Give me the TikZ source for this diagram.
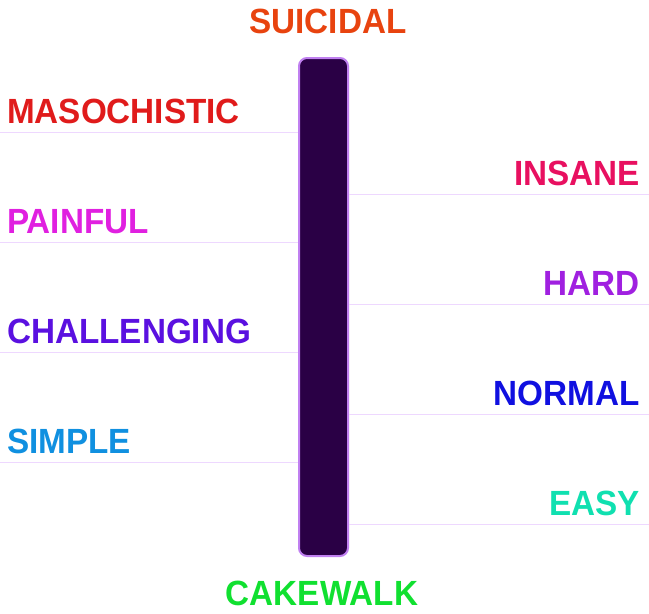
\documentclass[tikz,border=0pt]{standalone}
\usepackage{fontspec}
\setmainfont[FakeStretch=0.95]{Liberation Sans}
\definecolor{barfill}{HTML}{2A0045}
\definecolor{barborder}{HTML}{C080F0}
\definecolor{rungcolor}{HTML}{EED8FF}
\definecolor{suicidal}{HTML}{E8430F}
\definecolor{masochistic}{HTML}{E01B1B}
\definecolor{insane}{HTML}{E81060}
\definecolor{painful}{HTML}{E020E0}
\definecolor{hard}{HTML}{A020E0}
\definecolor{challenging}{HTML}{5A10E0}
\definecolor{normal}{HTML}{1010E0}
\definecolor{simple}{HTML}{1090E0}
\definecolor{easy}{HTML}{10E0B0}
\definecolor{cakewalk}{HTML}{10E030}
\tikzset{level/.style={font=\bfseries\fontsize{35}{40}\selectfont, inner sep=0pt},
 lefttag/.style={level, anchor=base west},
 righttag/.style={level, anchor=base east},
 rung/.style={draw=rungcolor, line width=1pt},
 scalebar/.style={draw=barborder, fill=barfill, line width=2pt,
   rounded corners=8pt, minimum width=49pt, minimum height=498pt, inner sep=0pt},
 }

\begin{document}
\begin{tikzpicture}[x=1pt,y=-1pt]
        \useasboundingbox (0,0) rectangle (649,614);
        \node[scalebar] (bar) at (323.5,307) {};
        % left side
        \coordinate (l1) at (0,132);
        \coordinate (l2) at (0,242);
        \coordinate (l3) at (0,352);
        \coordinate (l4) at (0,462);
        \draw[rung] (l1) -- (l1 -| bar.west);
        \draw[rung] (l2) -- (l2 -| bar.west);
        \draw[rung] (l3) -- (l3 -| bar.west);
        \draw[rung] (l4) -- (l4 -| bar.west);
        % right side
        \coordinate (r1) at (649,194);
        \coordinate (r2) at (649,304);
        \coordinate (r3) at (649,414);
        \coordinate (r4) at (649,524);
        \draw[rung] (bar.east |- r1) -- (r1);
        \draw[rung] (bar.east |- r2) -- (r2);
        \draw[rung] (bar.east |- r3) -- (r3);
        \draw[rung] (bar.east |- r4) -- (r4);
        \node[level, anchor=base, text=suicidal] (top) at (328,33) {SUICIDAL};
        \node[level, anchor=base, text=cakewalk] (bottom) at (322,605) {CAKEWALK};
        \node[lefttag, text=masochistic] (masochistic) at (7,123) {MASOCHISTIC};
        \node[lefttag, text=painful] (painful) at (7,233) {PAINFUL};
        \node[lefttag, text=challenging] (challenging) at (7,343) {CHALLENGING};
        \node[lefttag, text=simple] (simple) at (7,453) {SIMPLE};
        \node[righttag, text=insane] (insane) at (640,185) {INSANE};
        \node[righttag, text=hard] (hard) at (640,295) {HARD};
        \node[righttag, text=normal] (normal) at (640,405) {NORMAL};
        \node[righttag, text=easy] (easy) at (640,515) {EASY};
    \end{tikzpicture}
\end{document}
